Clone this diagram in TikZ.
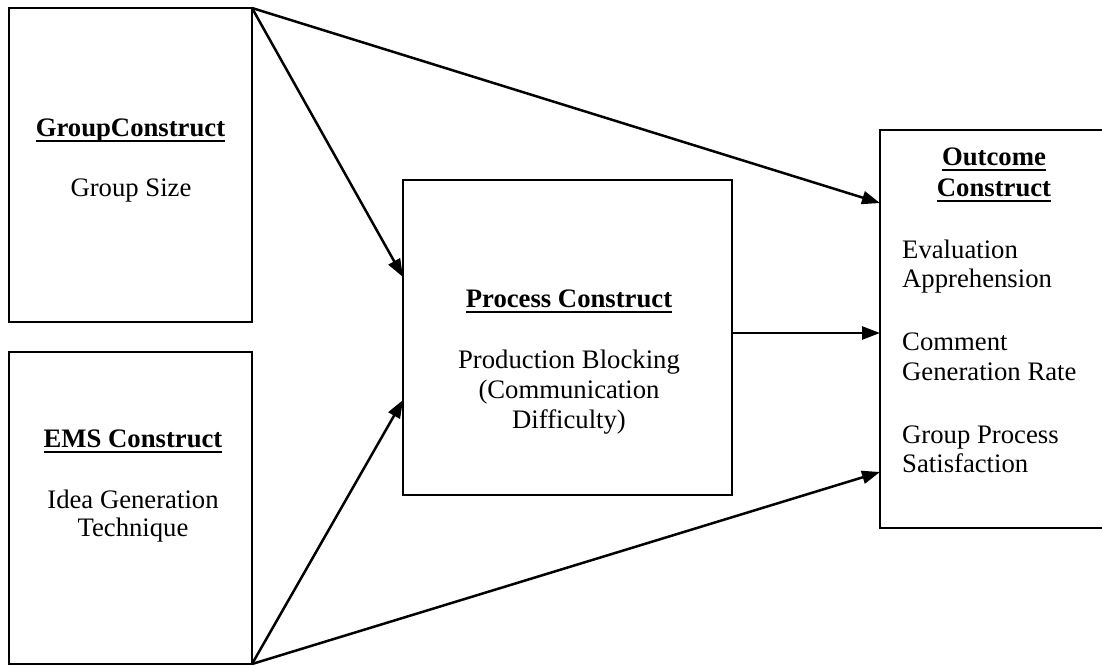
\documentclass[tikz,border=0pt]{standalone}
\usepackage{fontspec}
\setmainfont{Liberation Serif}
\usetikzlibrary{arrows.meta,calc}
\newcommand\ulx[1]{\setbox0\hbox{#1}\rlap{\rule[-6pt]{\wd0}{2pt}}\box0}
\begin{document}
\begin{tikzpicture}[x=1pt,y=-1pt,
  box/.style={draw,line width=2.6pt,inner sep=0pt,outer sep=0pt},
  arr/.style={line width=2.5pt,-{Triangle[length=18pt,width=13pt]}},
  tx/.style={anchor=base,inner sep=0pt,font=\fontsize{26.7}{30}\selectfont},
  tl/.style={anchor=base west,inner sep=0pt,font=\fontsize{26.7}{30}\selectfont},
  tb/.style={anchor=base,inner sep=0pt,font=\fontsize{26.7}{30}\selectfont\bfseries}]
\useasboundingbox (0,0) rectangle (1102,665);
\clip (0,0) rectangle (1102,665);
% boxes
\node[box,minimum width=243pt,minimum height=314pt] (grp) at (130.5,165) {};
\node[box,minimum width=243pt,minimum height=312pt] (ems) at (130.5,508) {};
\node[box,minimum width=329pt,minimum height=315pt] (proc) at (567.5,337.5) {};
\node[box,minimum width=230pt,minimum height=398pt] (out) at (995,329) {};
% texts
\node[tb] (gt) at (130.5,136) {\ulx{GroupConstruct}};
\node[tx] (gs) at (131,196) {Group Size};
\node[tb] (et) at (133,447) {\ulx{EMS Construct}};
\node[tx] (e1) at (133,508) {Idea Generation};
\node[tx] (e2) at (133,536) {Technique};
\node[tb] (pt) at (569,307) {\ulx{Process Construct}};
\node[tx] (p1) at (569,368) {Production Blocking};
\node[tx] (p2) at (569,398) {(Communication};
\node[tx] (p3) at (569,428) {Difficulty)};
\node[tb] (ot1) at (994,165) {\ulx{Outcome}};
\node[tb] (ot2) at (994,196) {\ulx{Construct}};
\node[tl] (o1) at (902,258) {Evaluation};
\node[tl] (o2) at (902,287) {Apprehension};
\node[tl] (o3) at (902,350) {Comment};
\node[tl] (o4) at (902,380) {Generation Rate};
\node[tl] (o5) at (902,443) {Group Process};
\node[tl] (o6) at (902,472) {Satisfaction};
% connectors
\draw[arr] (grp.north east) -- ([yshift=-97pt]proc.north west);
\draw[arr] (grp.north east) -- ([yshift=-73pt]out.north west);
\coordinate (pe) at ([yshift=4.5pt]proc.east);
\draw[arr] (pe) -- (pe -| out.west);
\draw[arr] (ems.south east) -- ([yshift=-220pt]proc.north west);
\draw[arr] (ems.south east) -- ([yshift=-342pt]out.north west);
\end{tikzpicture}
\end{document}
